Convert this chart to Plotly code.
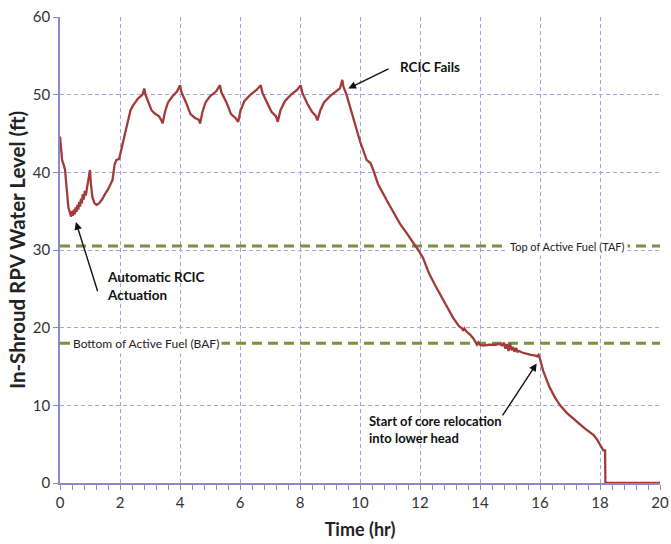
import plotly.graph_objects as go

# Time (hr) and in-shroud RPV water level (ft)
time_hr = [0.00, 0.03, 0.07, 0.12, 0.17, 0.22, 0.28, 0.33, 0.37, 0.40, 0.43, 0.46, 0.49, 0.52,
           0.55, 0.58, 0.61, 0.64, 0.67, 0.70, 0.73, 0.76, 0.79, 0.83, 0.86, 0.90, 0.93, 0.97,
           1.00, 1.03, 1.08, 1.15, 1.22, 1.30, 1.40, 1.50, 1.60, 1.70, 1.75, 1.82, 1.88, 1.97,
           2.05, 2.15, 2.25, 2.35, 2.45, 2.60, 2.75, 2.81, 2.85, 2.95, 3.05, 3.15, 3.30, 3.38,
           3.42, 3.50, 3.60, 3.75, 3.90, 4.00, 4.05, 4.20, 4.35, 4.50, 4.62, 4.67, 4.75, 4.85,
           5.00, 5.20, 5.33, 5.38, 5.55, 5.70, 5.85, 5.94, 6.02, 6.15, 6.35, 6.55, 6.69, 6.75,
           6.90, 7.05, 7.20, 7.26, 7.35, 7.50, 7.70, 7.90, 8.02, 8.08, 8.25, 8.40, 8.52, 8.58,
           8.68, 8.80, 9.00, 9.20, 9.33, 9.41, 9.45, 9.55, 9.70, 9.83, 10.00, 10.22, 10.35, 10.44,
           10.60, 10.89, 11.10, 11.33, 11.55, 11.72, 11.94, 12.10, 12.30, 12.50, 12.67, 12.90,
           13.10, 13.30, 13.40, 13.44, 13.48, 13.55, 13.67, 13.78, 13.85, 13.90, 13.95, 14.00,
           14.10, 14.30, 14.50, 14.65, 14.75, 14.80, 14.85, 14.90, 14.95, 15.00, 15.05, 15.10,
           15.15, 15.20, 15.25, 15.30, 15.40, 15.55, 15.70, 15.85, 15.90, 15.95, 16.00, 16.10,
           16.30, 16.50, 16.67, 16.90, 17.20, 17.50, 17.78, 17.90, 18.11, 18.17, 18.18, 20.00]
level_ft = [44.6, 43.0, 41.6, 41.0, 40.3, 38.0, 35.5, 34.8, 34.3, 35.0, 34.4, 35.2, 34.6, 35.5,
            34.9, 35.8, 35.2, 36.2, 35.6, 36.6, 36.0, 37.2, 36.5, 37.6, 37.0, 38.0, 38.6, 39.5,
            40.3, 38.5, 36.8, 36.0, 35.8, 36.0, 36.5, 37.2, 37.8, 38.6, 39.0, 41.0, 41.6, 41.7,
            43.0, 45.0, 46.5, 48.0, 48.7, 49.5, 50.0, 50.8, 50.0, 49.0, 48.0, 47.6, 47.2, 46.7,
            46.3, 47.8, 49.0, 49.8, 50.4, 51.2, 50.3, 49.0, 47.5, 47.0, 46.8, 46.3, 47.8, 49.0,
            49.8, 50.4, 51.2, 50.3, 49.0, 47.5, 47.0, 46.5, 48.0, 49.2, 50.0, 50.6, 51.2, 50.2,
            49.0, 47.8, 47.2, 46.5, 48.0, 49.2, 50.0, 50.6, 51.2, 50.2, 48.8, 47.8, 47.3, 46.7,
            48.0, 49.0, 49.8, 50.4, 50.8, 51.9, 51.0, 50.0, 48.0, 46.3, 44.0, 41.6, 41.2, 40.3,
            38.5, 36.4, 35.0, 33.4, 32.2, 31.3, 30.0, 29.0, 27.0, 25.5, 24.3, 22.6,
            21.3, 20.2, 19.9, 19.6, 19.9, 19.5, 19.1, 18.6, 18.2, 17.8, 18.1, 17.8,
            17.7, 17.8, 17.8, 17.9, 17.7, 18.1, 17.3, 17.9, 17.0, 18.0, 17.1, 17.5,
            16.9, 17.4, 16.9, 17.0, 16.8, 16.6, 16.5, 16.4, 16.3, 16.5, 16.0, 14.5,
            12.5, 11.0, 10.0, 9.0, 8.0, 7.0, 6.2, 5.6, 4.2, 4.2, 0.0, 0.0]

taf_level = 30.5
baf_level = 18.0
x_range = [0, 20]
y_range = [0, 60]

line_red = "#A33A3A"
green = "#77933C"
axis_col = "#8A8AC8"
grid_col = "#A3A3E3"
font_family = "Lato, 'Open Sans', sans-serif"

fig = go.Figure()
fig.add_trace(go.Scatter(x=x_range, y=[taf_level, taf_level], mode="lines",
                         line=dict(color=green, width=3, dash="10px,6px"), hoverinfo="skip"))
fig.add_trace(go.Scatter(x=x_range, y=[baf_level, baf_level], mode="lines",
                         line=dict(color=green, width=3, dash="10px,6px"), hoverinfo="skip"))
fig.add_trace(go.Scatter(x=time_hr, y=level_ft, mode="lines",
                         line=dict(color=line_red, width=2.3)))

annotations = [
    dict(x=16.9, y=taf_level, text="Top of Active Fuel (TAF)", showarrow=False,
         bgcolor="white", font=dict(size=11, color="#222"), borderpad=2),
    dict(x=2.88, y=baf_level, text="Bottom of Active Fuel (BAF)", showarrow=False,
         bgcolor="white", font=dict(size=12, color="#222"), borderpad=2),
    # arrows
    dict(x=0.53, y=33.6, ax=1.27, ay=24.5, axref="x", ayref="y", text="", showarrow=True,
         arrowhead=2, arrowsize=1.1, arrowwidth=1.4, arrowcolor="#111"),
    dict(x=9.61, y=50.8, ax=11.0, ay=53.4, axref="x", ayref="y", text="", showarrow=True,
         arrowhead=2, arrowsize=1.1, arrowwidth=1.4, arrowcolor="#111"),
    dict(x=15.89, y=15.4, ax=14.72, ay=8.5, axref="x", ayref="y", text="", showarrow=True,
         arrowhead=2, arrowsize=1.1, arrowwidth=1.4, arrowcolor="#111"),
    # texts
    dict(x=1.5, y=25.4, text="<b>Automatic RCIC<br>Actuation</b>", showarrow=False,
         xanchor="left", yanchor="middle", align="left", font=dict(size=13.5, color="#111")),
    dict(x=11.25, y=53.6, text="<b>RCIC Fails</b>", showarrow=False,
         xanchor="left", yanchor="middle", align="left", font=dict(size=13.5, color="#111")),
    dict(x=10.23, y=6.9, text="<b>Start of core relocation<br>into lower head</b>", showarrow=False,
         xanchor="left", yanchor="middle", align="left", font=dict(size=13, color="#111")),
]

fig.update_layout(
    width=671, height=544,
    margin=dict(l=60, r=11, t=17, b=61),
    paper_bgcolor="white", plot_bgcolor="white",
    showlegend=False,
    font=dict(family=font_family, size=14, color="#333"),
    annotations=annotations,
    xaxis=dict(range=x_range, dtick=2, tick0=0, showgrid=True, gridcolor=grid_col,
               griddash="4px,3px", gridwidth=1, zeroline=False, showline=True,
               linecolor=axis_col, linewidth=1.5, ticks="outside", ticklen=5,
               tickcolor=axis_col, tickfont=dict(size=15, color="#333"), automargin=False,
               minor=dict(dtick=0.4, ticks="outside", ticklen=5, tickcolor=axis_col,
                          showgrid=False),
               title=dict(text="<b>Time (hr)</b>", font=dict(size=18, color="#222"), standoff=14)),
    yaxis=dict(range=y_range, dtick=10, showgrid=True, gridcolor=grid_col,
               griddash="4px,3px", gridwidth=1, zeroline=False, showline=True,
               linecolor=axis_col, linewidth=1.5, ticks="outside", ticklen=5,
               tickcolor=axis_col, tickfont=dict(size=15, color="#333"), automargin=False,
               title=dict(text="<b>In-Shroud RPV Water Level (ft)</b>",
                          font=dict(size=20.5, color="#222"), standoff=2)),
)

fig.write_html("out.html")
